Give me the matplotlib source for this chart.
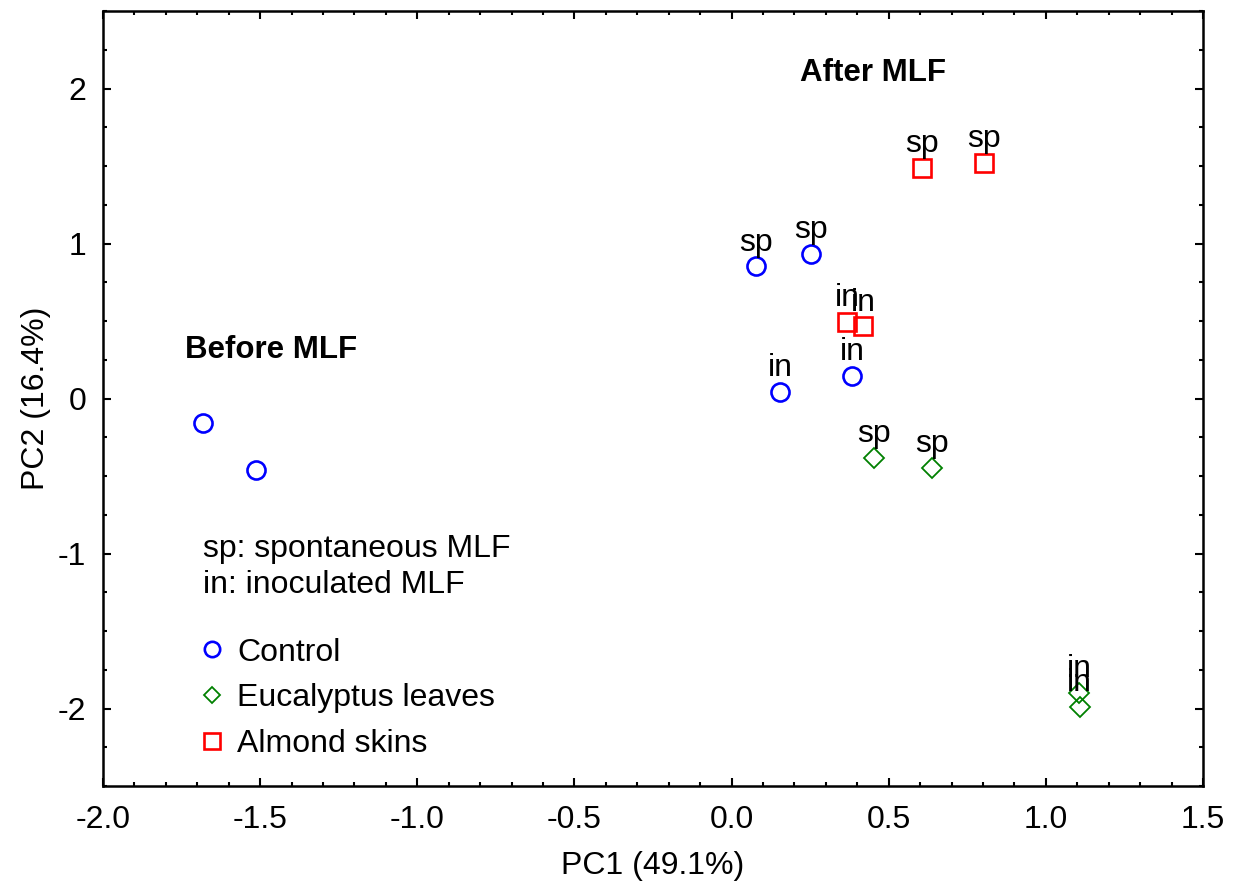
import matplotlib
matplotlib.use("Agg")
import matplotlib.pyplot as plt
from matplotlib.ticker import MultipleLocator

plt.rcParams['font.family'] = ['Liberation Sans', 'DejaVu Sans']

# Data
control_x = [-1.682, -1.513, 0.078, 0.253, 0.154, 0.383]
control_y = [-0.161, -0.458, 0.852, 0.935, 0.045, 0.148]
control_lab = ["", "", "sp", "sp", "in", "in"]

euc_x = [0.453, 0.638, 1.105, 1.108]
euc_y = [-0.381, -0.445, -1.897, -1.987]
euc_lab = ["sp", "sp", "in", "in"]

alm_x = [0.606, 0.803, 0.367, 0.418]
alm_y = [1.49, 1.52, 0.497, 0.465]
alm_lab = ["sp", "sp", "in", "in"]

fig = plt.figure(figsize=(12.33, 8.89), dpi=100)
ax = fig.add_axes([0.0835, 0.1158, 0.8922, 0.8718])

FS = 23
h1, = ax.plot(control_x, control_y, 'o', ms=13, mfc='none', mec='#0000ff', mew=1.9, ls='none', label='Control')
h2, = ax.plot(euc_x, euc_y, 'D', ms=10, mfc='none', mec='#008000', mew=1.3, ls='none', label='Eucalyptus leaves')
h3, = ax.plot(alm_x, alm_y, 's', ms=13, mfc='none', mec='#ff0000', mew=1.9, ls='none', label='Almond skins')

for xs, ys, labs in [(control_x, control_y, control_lab), (euc_x, euc_y, euc_lab), (alm_x, alm_y, alm_lab)]:
    for x, y, l in zip(xs, ys, labs):
        if l:
            ax.annotate(l, (x, y), xytext=(0, 17), textcoords='offset points',
                        ha='center', va='center', fontsize=FS)

ax.text(0.45, 2.1, "After MLF", fontsize=FS - 0.5, fontweight='bold', ha='center', va='center')
ax.text(-1.465, 0.31, "Before MLF", fontsize=FS - 0.5, fontweight='bold', ha='center', va='center')
ax.text(-1.682, -1.087, "sp: spontaneous MLF\nin: inoculated MLF", fontsize=FS,
        ha='left', va='center', linespacing=1.3)

leg = ax.legend(handles=[h1, h2, h3], loc='upper left', bbox_to_anchor=(0.0787, 0.208),
                frameon=False, fontsize=FS, handlelength=0.6, handletextpad=0.5,
                labelspacing=0.49, markerscale=0.85, borderaxespad=0)

ax.set_xlim(-2.0, 1.5)
ax.set_ylim(-2.5, 2.5)
ax.xaxis.set_minor_locator(MultipleLocator(0.1))
ax.yaxis.set_minor_locator(MultipleLocator(0.25))
ax.set_xticks([-2.0, -1.5, -1.0, -0.5, 0.0, 0.5, 1.0, 1.5])
ax.set_xticklabels(["-2.0", "-1.5", "-1.0", "-0.5", "0.0", "0.5", "1.0", "1.5"])
ax.set_yticks([-2, -1, 0, 1, 2])
ax.set_yticklabels(["-2", "-1", "0", "1", "2"])
ax.tick_params(which='both', direction='in', top=True, right=True, labelsize=FS, width=1.5)
ax.tick_params(which='major', length=6)
ax.tick_params(axis='x', which='major', pad=14)
ax.tick_params(axis='y', which='major', pad=12)
ax.tick_params(which='minor', length=3)
for s in ax.spines.values():
    s.set_linewidth(1.8)

ax.set_xlabel("PC1 (49.1%)", fontsize=FS, labelpad=11)
ax.set_ylabel("PC2 (16.4%)", fontsize=FS, labelpad=5)

fig.savefig("out.png", dpi=100)
